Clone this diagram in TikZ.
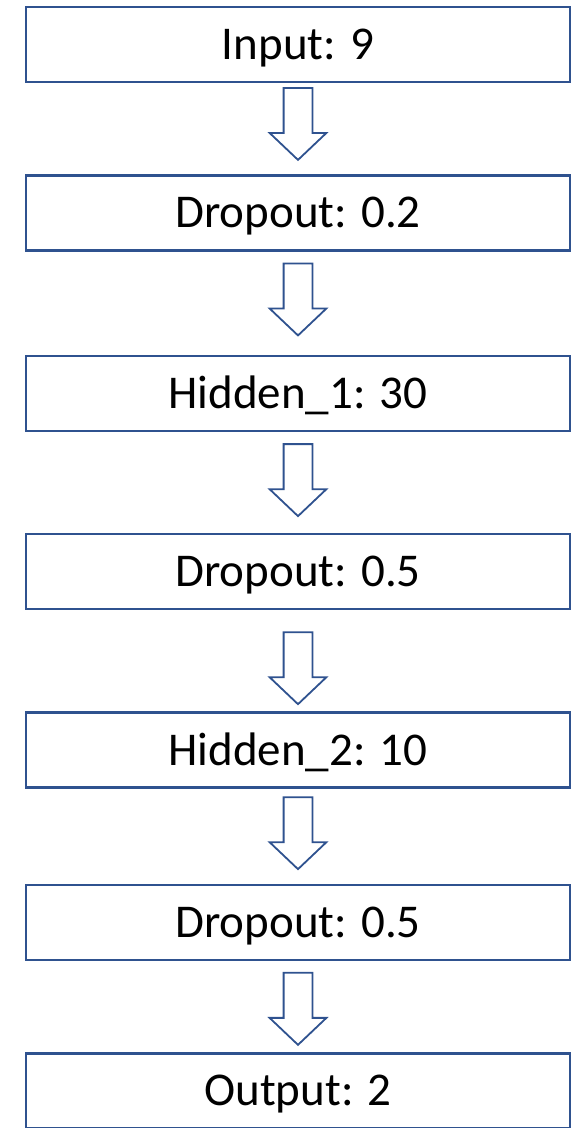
\documentclass[tikz,border=0pt]{standalone}
\usepackage{fontspec}
\setmainfont{Carlito}
\usetikzlibrary{shapes.arrows, positioning}
\definecolor{layerblue}{RGB}{47, 82, 143}

\begin{document}
\begin{tikzpicture}[x=1pt, y=-1pt,
  layer/.style={draw=layerblue, line width=2.6pt, fill=white, minimum width=544pt, minimum height=75pt, inner sep=0pt, font=\fontsize{47}{56}\selectfont, text height=30pt, text depth=0pt},
  flow/.style={single arrow, draw=layerblue, line width=1.8pt, fill=white, shape border rotate=270, minimum height=72pt, minimum width=55pt, inner sep=13.5pt, single arrow head extend=14pt, single arrow tip angle=93, yshift=7pt}
]
  \clip (0, 0) rectangle (571, 1128);
  \node[layer] (in) at (298, 44.5) {Input: 9};
  \node[layer] (drop1) at (298, 212.7) {Dropout: 0.2};
  \node[layer] (hid1) at (298, 393.3) {Hidden\_1: 30};
  \node[layer] (drop2) at (298, 571.3) {Dropout: 0.5};
  \node[layer] (hid2) at (298, 750) {Hidden\_2: 10};
  \node[layer] (drop3) at (298, 922.3) {Dropout: 0.5};
  \node[layer] (out) at (298, 1090.8) {Output: 2};

  \path (in.south) -- node[flow, pos=0.45] (f1) {} (drop1.north);
  \path (drop1.south) -- node[flow, pos=0.467] (f2) {} (hid1.north);
  \path (hid1.south) -- node[flow, pos=0.48] (f3) {} (drop2.north);
  \path (drop2.south) -- node[flow, pos=0.576] (f4) {} (hid2.north);
  \path (hid2.south) -- node[flow, pos=0.47] (f5) {} (drop3.north);
  \path (drop3.south) -- node[flow, pos=0.527] (f6) {} (out.north);
\end{tikzpicture}
\end{document}
